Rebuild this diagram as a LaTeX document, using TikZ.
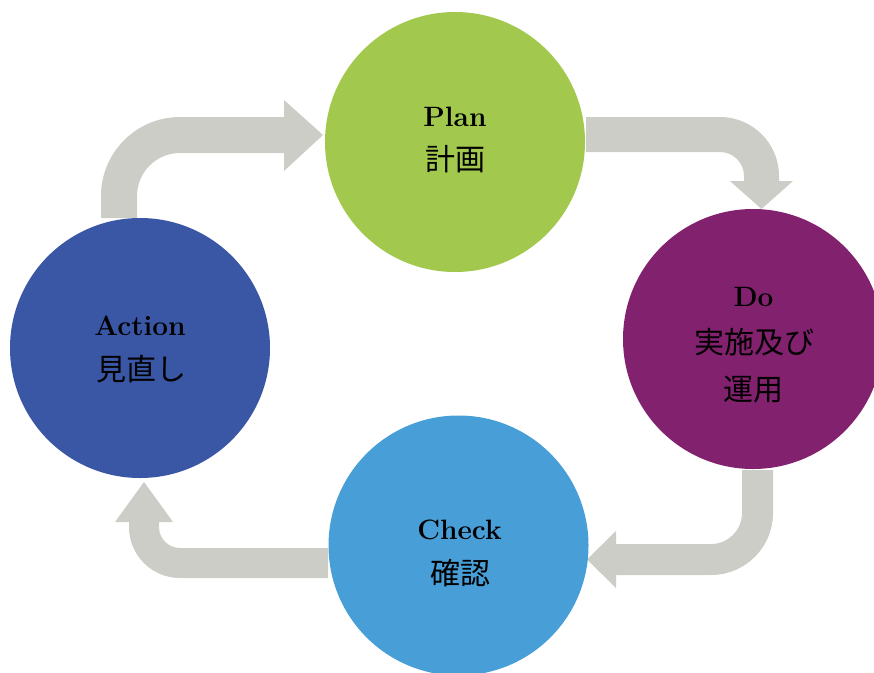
\documentclass[tikz,border=0pt]{standalone}
\usepackage{fontspec}
\newfontfamily\jpfont{Noto Sans CJK JP}
\definecolor{plangreen}{RGB}{162,200,78}
\definecolor{dopurple}{RGB}{130,33,110}
\definecolor{checkblue}{RGB}{72,158,214}
\definecolor{actionblue}{RGB}{58,87,166}
\definecolor{arrowgray}{RGB}{205,205,200}
\tikzset{
  phase/.style={circle, minimum size=260pt, inner sep=0pt, draw=none},
  entext/.style={anchor=base, inner sep=0pt, font=\fontsize{28}{28}\selectfont\bfseries},
  jptext/.style={anchor=base, inner sep=0pt, font=\jpfont\fontsize{30}{30}\selectfont},
  blockarrow/.style={fill=arrowgray, draw=none}
}
\begin{document}
\begin{tikzpicture}[x=1pt,y=-1pt]
\useasboundingbox (0,0) rectangle (874,672);

% block arrows
% Action -> Plan
\fill[blockarrow] (101,218) -- (101,196) arc[start angle=180, end angle=90, radius=79pt]
  -- (284,117) -- (284,100) -- (323,135) -- (284,171) -- (284,153) -- (180,153)
  arc[start angle=90, end angle=180, radius=43pt] -- (137,218) -- cycle;
% Plan -> Do
\fill[blockarrow] (586,117) -- (720,117) arc[start angle=90, end angle=0, radius=59pt]
  -- (779,181) -- (793,181) -- (761.5,209) -- (730,181) -- (744,181) -- (744,176)
  arc[start angle=0, end angle=90, radius=24pt] -- (586,152) -- cycle;
% Do -> Check
\fill[blockarrow] (742,470) -- (773,470) -- (773,513) arc[start angle=0, end angle=-90, radius=62pt]
  -- (616,575) -- (616,588) -- (587,559.5) -- (616,531) -- (616,544) -- (711,544)
  arc[start angle=-90, end angle=0, radius=31pt] -- cycle;
% Check -> Action
\fill[blockarrow] (328,548) -- (180,548) arc[start angle=270, end angle=180, radius=21pt]
  -- (159,522) -- (173,522) -- (144,482) -- (115,522) -- (129,522) -- (129,527)
  arc[start angle=180, end angle=270, radius=51pt] -- (328,578) -- cycle;

% circles
\node[phase, fill=plangreen] (plan) at (455,142) {};
\node[phase, fill=dopurple] (do) at (753,339) {};
\node[phase, fill=checkblue] (check) at (458.5,545.5) {};
\node[phase, fill=actionblue] (action) at (140,348) {};

% texts
\node[entext] (planen) at (455,126) {Plan};
\node[jptext] (planjp) at (455,170) {計画};
\node[entext] (doen) at (753.5,306) {Do};
\node[jptext] (dojp1) at (754,353) {実施及び};
\node[jptext] (dojp2) at (753,400) {運用};
\node[entext] (actionen) at (140,335) {Action};
\node[jptext] (actionjp) at (141,380) {見直し};
\node[entext] (checken) at (459.5,539) {Check};
\node[jptext] (checkjp) at (460,584) {確認};
\end{tikzpicture}
\end{document}
